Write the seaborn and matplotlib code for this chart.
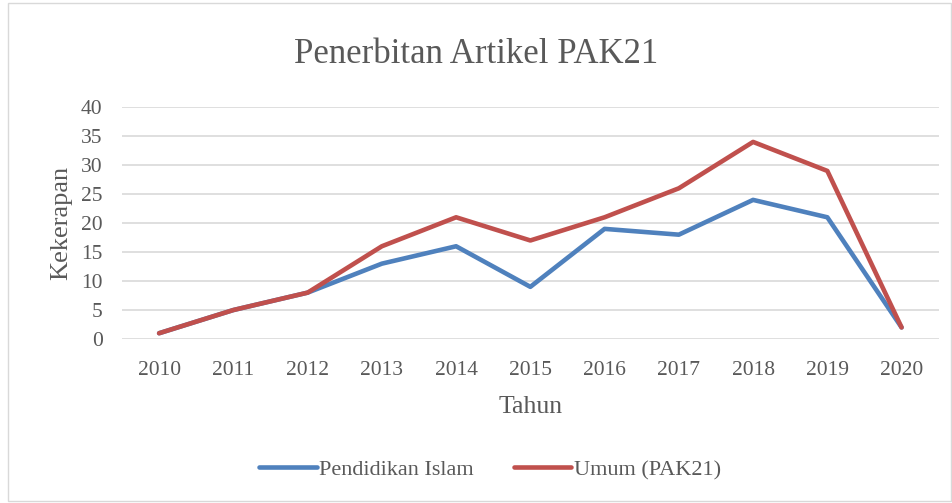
import pandas as pd
import matplotlib.pyplot as plt
import seaborn as sns
from matplotlib.patches import Rectangle

# data
tahun = ['2010', '2011', '2012', '2013', '2014', '2015',
         '2016', '2017', '2018', '2019', '2020']
pendidikan_islam = [1, 5, 8, 13, 16, 9, 19, 18, 24, 21, 2]
umum_pak21 = [1, 5, 8, 16, 21, 17, 21, 26, 34, 29, 2]

df = pd.DataFrame({
    'Tahun': tahun * 2,
    'Kekerapan': pendidikan_islam + umum_pak21,
    'Siri': ['Pendidikan Islam'] * len(tahun) + ['Umum (PAK21)'] * len(tahun),
})

sns.set_theme(style='white')
plt.rcParams['font.family'] = ['Liberation Serif', 'DejaVu Serif']
grey = '#595959'

fig = plt.figure(figsize=(9.53, 5.03), dpi=100)
ax = fig.add_axes([0.128, 0.326, 0.857, 0.461])

sns.lineplot(
    data=df, x='Tahun', y='Kekerapan', hue='Siri',
    palette=['#4F81BD', '#C0504D'], linewidth=3.3,
    ax=ax, legend=True, sort=False
)

ax.set_xlim(-0.5, 10.5)
ax.set_ylim(0, 40)
ax.set_yticks(range(0, 41, 5))
ax.yaxis.grid(True, color='#D9D9D9', linewidth=1.2)
ax.set_axisbelow(True)
for s in ax.spines.values():
    s.set_visible(False)
ax.tick_params(axis='both', length=0, labelsize=15.5, labelcolor=grey)
ax.tick_params(axis='x', pad=16)
ax.tick_params(axis='y', pad=14)

ax.set_xlabel('Tahun', fontsize=18.5, color=grey, labelpad=11)
ax.set_ylabel('Kekerapan', fontsize=19, color=grey, labelpad=6)

fig.text(0.5, 0.892, 'Penerbitan Artikel PAK21', ha='center', va='center',
         fontsize=25, color=grey)

handles, labels = ax.get_legend_handles_labels()
ax.legend(handles, labels, loc='center', bbox_to_anchor=(0.514, 0.066),
          bbox_transform=fig.transFigure, ncol=2, frameon=False,
          fontsize=16, labelcolor=grey, handlelength=2.6,
          handletextpad=0.1, columnspacing=1.8)

fig.patches.append(Rectangle((0.008, 0.004), 0.99, 0.99, transform=fig.transFigure,
                             fill=False, edgecolor='#D9D9D9', linewidth=1))

fig.savefig('out.png', dpi=100)
plt.close()
